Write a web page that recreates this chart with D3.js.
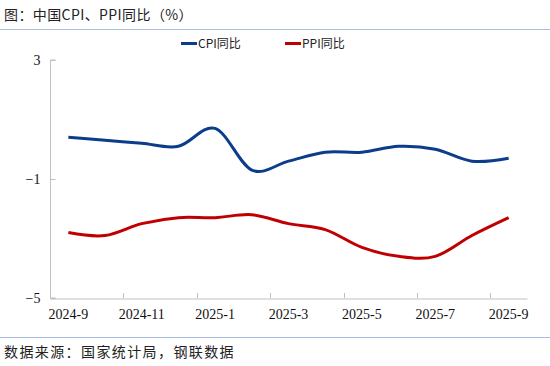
<!DOCTYPE html>
<html><head><meta charset="utf-8">
<script src="https://cdn.jsdelivr.net/npm/d3@7"></script>
<style>body{margin:0;background:#fff}</style>
</head><body><svg id="c" width="550" height="366"></svg>
<script>
const categories = ["2024-9","2024-10","2024-11","2024-12","2025-1","2025-2","2025-3","2025-4","2025-5","2025-6","2025-7","2025-8","2025-9"];
const cpi = [0.4,0.3,0.2,0.1,0.7,-0.7,-0.4,-0.1,-0.1,0.1,0.0,-0.4,-0.3];
const ppi = [-2.8,-2.9,-2.5,-2.3,-2.3,-2.2,-2.5,-2.7,-3.3,-3.6,-3.6,-2.9,-2.3];
const yTicks = [3,-1,-5];
const xLabels = ["2024-9","2024-11","2025-1","2025-3","2025-5","2025-7","2025-9"];
const seriesNames = ["CPI同比","PPI同比"];
const colors = ["#0b3d8c","#c00000"];

const svg = d3.select("#c");
const L = 50, R = 527, T = 60, B = 298;
const x = d3.scaleBand().domain(categories).range([L, R]);
const y = d3.scaleLinear().domain([-5, 3]).range([B, T]);
const axisColor = "#bfbfbf";

// title
svg.append("text").attr("x", 4).attr("y", 20).text("图：中国CPI、PPI同比（%）")
  .attr("font-family", "'Noto Sans CJK SC'").attr("font-size", 14).attr("letter-spacing", 0.4).attr("fill", "#222");
svg.append("line").attr("x1", 0).attr("x2", 550).attr("y1", 29.5).attr("y2", 29.5).attr("stroke", "#a9bde0").attr("stroke-width", 1);
svg.append("line").attr("x1", 0).attr("x2", 550).attr("y1", 337.5).attr("y2", 337.5).attr("stroke", "#a9bde0").attr("stroke-width", 1);
svg.append("text").attr("x", 4).attr("y", 357).text("数据来源：国家统计局，钢联数据")
  .attr("font-family", "'Noto Sans CJK SC'").attr("font-size", 14).attr("letter-spacing", 1.4).attr("fill", "#222");

// y axis
const ya = svg.append("g").attr("transform", `translate(${L + 0.5},0)`)
  .call(d3.axisLeft(y).tickValues(yTicks).tickSize(-5).tickPadding(10).tickFormat(d3.format("d")));
ya.select(".domain").attr("stroke", axisColor).attr("d", `M5,${T}H0V${B}H5`);
ya.selectAll(".tick line").attr("stroke", axisColor);
ya.selectAll(".tick text").attr("font-family", "'Liberation Serif'").attr("font-size", 14).attr("fill", "#111");

// x axis
const xa = svg.append("g").attr("transform", `translate(0,${B + 0.5})`)
  .call(d3.axisBottom(x).tickValues(xLabels).tickSize(0).tickPadding(11));
xa.select(".domain").attr("stroke", axisColor);
xa.selectAll(".tick text").attr("font-family", "'Liberation Serif'").attr("font-size", 14).attr("fill", "#111");
// tick marks between every 2 categories
const bounds = categories.slice(1).map((c, i) => i).filter(i => (i + 1) % 2 === 0).map(i => x(categories[i + 1]));
svg.append("g").selectAll("line").data(bounds).join("line")
  .attr("x1", d => Math.round(d) + 0.5).attr("x2", d => Math.round(d) + 0.5)
  .attr("y1", B).attr("y2", B - 5).attr("stroke", axisColor);

// lines
const line = d3.line().x((d, i) => x(categories[i]) + x.bandwidth() / 2).y(d => y(d)).curve(d3.curveCardinal.tension(0));
[cpi, ppi].forEach((s, k) => {
  svg.append("path").datum(s).attr("d", line).attr("fill", "none")
    .attr("stroke", colors[k]).attr("stroke-width", 3).attr("stroke-linejoin", "round");
});

// legend
const lx = [181, 285];
seriesNames.forEach((n, k) => {
  svg.append("line").attr("x1", lx[k]).attr("x2", lx[k] + 16).attr("y1", 43.5).attr("y2", 43.5)
    .attr("stroke", colors[k]).attr("stroke-width", 3);
  svg.append("text").attr("x", lx[k] + 17).attr("y", 48).text(n)
    .attr("font-family", "'Noto Sans CJK SC'").attr("font-size", 12).attr("fill", "#222");
});
</script></body></html>
